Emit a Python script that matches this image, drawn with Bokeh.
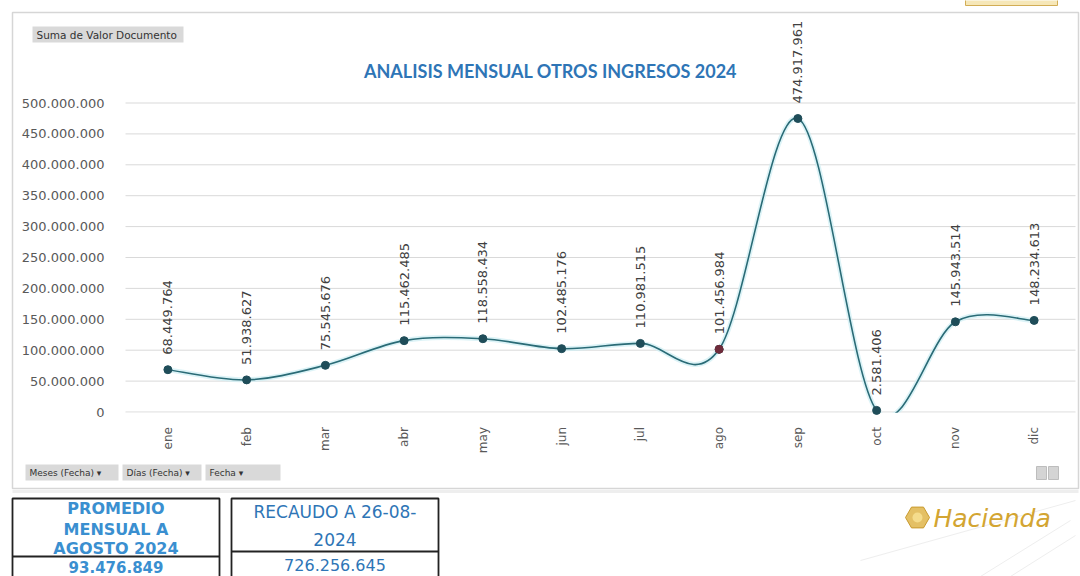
import math
from bokeh.plotting import figure
from bokeh.models import FixedTicker, Range1d, LinearAxis
from bokeh.embed import file_html
from bokeh.resources import INLINE
from bokeh.core.properties import value

# ---------------- data ----------------
months = ["ene", "feb", "mar", "abr", "may", "jun", "jul", "ago", "sep", "oct", "nov", "dic"]
values = [68449764, 51938627, 75545676, 115462485, 118558434, 102485176,
          110981515, 101456984, 474917961, 2581406, 145943514, 148234613]
y_ticks = [0, 50000000, 100000000, 150000000, 200000000, 250000000,
           300000000, 350000000, 400000000, 450000000, 500000000]
highlight_month = "ago"
title_text = "ANALISIS MENSUAL OTROS INGRESOS 2024"
field_label = "Suma de Valor Documento"
filter_buttons = ["Meses (Fecha) \u25be", "D\u00edas (Fecha) \u25be", "Fecha \u25be"]
avg_title = ["PROMEDIO", "MENSUAL A", "AGOSTO 2024"]
avg_value = "93.476.849"
total_title = ["RECAUDO A 26-08-", "2024"]
total_value = "726.256.645"
brand = "Hacienda"


def fmt(v):
    return f"{v:,}".replace(",", ".")


labels = [fmt(v) for v in values]
xs = [i + 0.5 for i in range(len(months))]          # category centres
month_ticks = {x: m for x, m in zip(xs, months)}

# smoothed line (Catmull-Rom style Bezier through the data points)
n = len(months)
pts = list(zip(xs, values))
seg = dict(x0=[], y0=[], x1=[], y1=[], cx0=[], cy0=[], cx1=[], cy1=[])
for i in range(n - 1):
    pm = pts[i - 1] if i > 0 else pts[i]
    p0 = pts[i]
    p1 = pts[i + 1]
    pp = pts[i + 2] if i + 2 < n else pts[i + 1]
    seg["x0"].append(p0[0]); seg["y0"].append(p0[1])
    seg["x1"].append(p1[0]); seg["y1"].append(p1[1])
    seg["cx0"].append(p0[0] + (p1[0] - pm[0]) / 6)
    seg["cy0"].append(p0[1] + (p1[1] - pm[1]) / 6)
    seg["cx1"].append(p1[0] - (pp[0] - p0[0]) / 6)
    seg["cy1"].append(p1[1] - (pp[1] - p0[1]) / 6)

# ---------------- figure (frame = whole page) ----------------
W, H = 1080, 576
cat_px = 78.75          # pixels per month
x_left_px = 128         # left edge of the plot area
zero_px = 411.5         # pixel row of value 0
px_per_val = 309.0 / 500e6

p = figure(width=W, height=H,
           x_range=Range1d(-x_left_px / cat_px, (W - x_left_px) / cat_px),
           y_range=Range1d(-(H - zero_px) / px_per_val, zero_px / px_per_val),
           x_axis_location=None, y_axis_location=None,
           min_border_left=0, min_border_right=0, min_border_top=0, min_border_bottom=0,
           output_backend="svg", toolbar_location=None,
           outline_line_color=None, background_fill_color="white", border_fill_color="white")
p.grid.visible = False
p.extra_x_ranges = {"px": Range1d(0, W)}
p.extra_y_ranges = {"px": Range1d(H, 0)}

# axes at fixed locations
yax = LinearAxis(fixed_location=0, ticker=FixedTicker(ticks=y_ticks),
                 major_label_overrides={t: fmt(t) for t in y_ticks})
yax.axis_line_color = None
yax.major_tick_line_color = None
yax.minor_tick_line_color = None
yax.major_label_standoff = 18
yax.major_label_text_font = "DejaVu Sans"
yax.major_label_text_font_size = "13px"
yax.major_label_text_color = "#595959"
p.add_layout(yax, "left")

xax = LinearAxis(fixed_location=0, ticker=FixedTicker(ticks=xs),
                 major_label_overrides=month_ticks)
xax.axis_line_color = None
xax.major_tick_line_color = None
xax.minor_tick_line_color = None
xax.major_label_orientation = math.pi / 2
xax.major_label_standoff = 9
xax.major_label_text_font = "DejaVu Sans"
xax.major_label_text_font_size = "12px"
xax.major_label_text_color = "#595959"
p.add_layout(xax, "below")

# outer chart border
p.quad(left=[12], right=[1078], top=[12], bottom=[488], fill_color=None,
       line_color="#d6d6d6", line_width=1.5, x_range_name="px", y_range_name="px")
p.segment(x0=[12], y0=[491], x1=[1078], y1=[491], line_color="#eeeeee", line_width=3,
          x_range_name="px", y_range_name="px")
p.quad(left=[965], right=[1057], top=[-2], bottom=[5], fill_color="#f6e7b8",
       line_color="#d2ad55", x_range_name="px", y_range_name="px")

# horizontal gridlines
p.segment(x0=[125] * len(y_ticks), x1=[1075] * len(y_ticks), y0=y_ticks, y1=y_ticks,
          line_color="#d9d9d9", line_width=1, x_range_name="px")

# smoothed line with soft glow
p.bezier(x0="x0", y0="y0", x1="x1", y1="y1", cx0="cx0", cy0="cy0", cx1="cx1", cy1="cy1",
         source=seg, line_color="#cdeef4", line_width=5, line_alpha=0.7)
p.bezier(x0="x0", y0="y0", x1="x1", y1="y1", cx0="cx0", cy0="cy0", cx1="cx1", cy1="cy1",
         source=seg, line_color="#2a6b76", line_width=1.6)
# plot-area clip below the zero line
p.quad(left=[125], right=[1075], top=[-1.3e6], bottom=[-14e6], fill_color="white",
       line_color=None, x_range_name="px")

p.scatter(x=xs, y=values, size=8, fill_color="#1f4d59", line_color="#1f4d59")
hi = months.index(highlight_month)
p.scatter(x=[xs[hi]], y=[values[hi]], size=8, fill_color="#6e2b3a", line_color="#6e2b3a")

p.text(x=xs, y=values, text=labels, angle=math.pi / 2, y_offset=-15,
       text_align="left", text_baseline="middle", text_font=value("DejaVu Sans"),
       text_font_size="13px", text_color="#404040")

# title
p.text(x=[550], y=[70], text=[title_text], text_align="center", text_baseline="middle",
       text_font=value("Lato"), text_font_style="bold", text_font_size="18px",
       text_color="#2E75B6", x_range_name="px", y_range_name="px")

# pivot field button
p.quad(left=[32], right=[183], top=[26], bottom=[42], fill_color="#d9d9d9", line_color=None,
       x_range_name="px", y_range_name="px")
p.text(x=[36], y=[34], text=[field_label], text_baseline="middle",
       text_font=value("DejaVu Sans"), text_font_size="10.5px", text_color="#333333",
       x_range_name="px", y_range_name="px")

# filter buttons
btn_left = [25, 122, 205]
btn_right = [118, 201, 280]
p.quad(left=btn_left, right=btn_right, top=[464] * 3, bottom=[480] * 3,
       fill_color="#d9d9d9", line_color=None, x_range_name="px", y_range_name="px")
p.text(x=[l + 4 for l in btn_left], y=[472] * 3, text=filter_buttons,
       text_baseline="middle", text_font=value("DejaVu Sans"), text_font_size="9px",
       text_color="#333333", x_range_name="px", y_range_name="px")
p.quad(left=[1036, 1048], right=[1046, 1058], top=[466, 466], bottom=[479, 479],
       fill_color="#d4d4d4", line_color="#bdbdbd", x_range_name="px", y_range_name="px")

# table 1
p.quad(left=[12], right=[219], top=[498], bottom=[580], fill_color=None,
       line_color="#222222", line_width=1.8, x_range_name="px", y_range_name="px")
p.segment(x0=[12], y0=[556], x1=[219], y1=[556], line_color="#222222", line_width=1.8,
          x_range_name="px", y_range_name="px")
p.text(x=[115.5] * 3, y=[508, 529, 548], text=avg_title, text_align="center",
       text_baseline="middle", text_font=value("DejaVu Sans"), text_font_style="bold",
       text_font_size="16px", text_color="#3a8fd0", x_range_name="px", y_range_name="px")
p.text(x=[115.5], y=[566], text=[avg_value], text_align="center",
       text_baseline="middle", text_font=value("DejaVu Sans"), text_font_style="bold",
       text_font_size="15px", text_color="#3a8fd0", x_range_name="px", y_range_name="px")

# table 2
p.quad(left=[231], right=[438], top=[498], bottom=[580], fill_color=None,
       line_color="#222222", line_width=1.8, x_range_name="px", y_range_name="px")
p.segment(x0=[231], y0=[551], x1=[438], y1=[551], line_color="#222222", line_width=1.8,
          x_range_name="px", y_range_name="px")
p.text(x=[334.5] * 2, y=[511, 539], text=total_title, text_align="center",
       text_baseline="middle", text_font=value("DejaVu Sans"),
       text_font_size="17px", text_color="#2E75B6", x_range_name="px", y_range_name="px")
p.text(x=[334.5], y=[564], text=[total_value], text_align="center",
       text_baseline="middle", text_font=value("DejaVu Sans"),
       text_font_size="16px", text_color="#2E75B6", x_range_name="px", y_range_name="px")

# logo
p.segment(x0=[860, 980, 1010], y0=[560, 576, 576], x1=[1075, 1070, 1075], y1=[500, 520, 535],
          line_color="#eeeeee", line_width=1, x_range_name="px", y_range_name="px")
p.scatter(x=[917], y=[517], marker="hex", size=24, fill_color="#dfb54a",
          line_color="#c99a2e", fill_alpha=0.85, x_range_name="px", y_range_name="px")
p.scatter(x=[917], y=[517], marker="circle", size=10, fill_color="#f5dc8c",
          line_color=None, x_range_name="px", y_range_name="px")
p.text(x=[933], y=[518], text=[brand], text_baseline="middle",
       text_font=value("DejaVu Sans"), text_font_style="italic",
       text_font_size="25px", text_color="#d3a532", x_range_name="px", y_range_name="px")

open("out.html", "w").write(file_html(p, INLINE))
